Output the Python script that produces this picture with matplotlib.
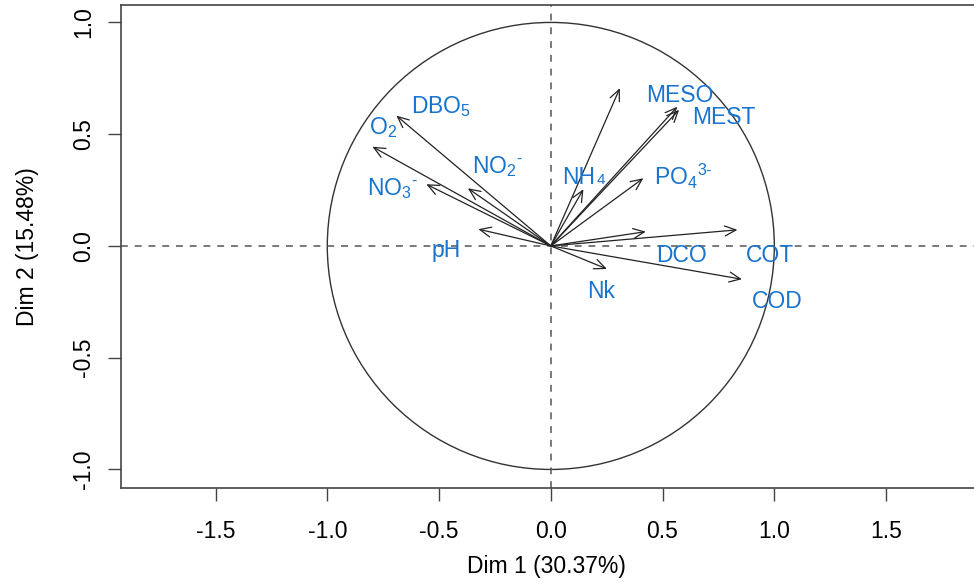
import matplotlib
matplotlib.use("Agg")
import matplotlib.pyplot as plt
from matplotlib.patches import Circle

plt.rcParams["font.family"] = ["Liberation Sans", "DejaVu Sans"]
plt.rcParams["mathtext.default"] = "regular"

# variable coordinates on Dim 1 / Dim 2
variables = ["DBO5", "O2", "NO3", "NO2", "pH", "NH4_long", "MESO", "MEST",
             "NH4", "PO4", "DCO", "COT", "COD", "Nk"]
dim1 = [-0.691, -0.798, -0.557, -0.371, -0.324, 0.309, 0.566, 0.574,
        0.146, 0.414, 0.425, 0.835, 0.855, 0.251]
dim2 = [0.583, 0.444, 0.276, 0.258, 0.075, 0.706, 0.623, 0.609,
        0.254, 0.303, 0.064, 0.072, -0.149, -0.103]

# labels, and where they were placed (left edge / baseline, data units)
labels = [r"DBO$_5$", r"O$_2$", "NO$_3{}^{\u2010}$", "NO$_2{}^{\u2010}$", "pH", "", "MESO", "MEST",
          "NH", "PO$_4{}^{3\u2010}$", "DCO", "COT", "COD", "Nk"]
label_x = [-0.625, -0.813, -0.822, -0.352, -0.532, 0, 0.426, 0.632,
           0.051, 0.462, 0.470, 0.874, 0.901, 0.162]
label_y = [0.595, 0.499, 0.228, 0.327, -0.051, 0, 0.644, 0.546,
           0.277, 0.273, -0.070, -0.070, -0.279, -0.233]

xticks = [-1.5, -1.0, -0.5, 0.0, 0.5, 1.0, 1.5]
yticks = [-1.0, -0.5, 0.0, 0.5, 1.0]

blue = "#1874CD"
fs = 16.5

fig = plt.figure(figsize=(9.74, 5.85), dpi=100)
ax = fig.add_axes([121 / 974, 97 / 585, 859.6 / 974, 483 / 585])
ax.set_xlim(-1.923, 1.923)
ax.set_ylim(-1.083, 1.078)

ax.add_patch(Circle((0, 0), 1, fill=False, lw=1.0, color="#333333"))
ax.axhline(0, ls=(0, (4.5, 4.5)), color="#555555", lw=1.1)
ax.axvline(0, ls=(0, (4.5, 4.5)), color="#555555", lw=1.1)

for x, y in zip(dim1, dim2):
    ax.annotate("", xy=(x, y), xytext=(0, 0),
                arrowprops=dict(arrowstyle="->,head_length=0.4,head_width=0.18",
                                lw=0.9, color="#222222", shrinkA=0, shrinkB=0,
                                mutation_scale=20))

for lab, lx, ly in zip(labels, label_x, label_y):
    if not lab:
        continue
    t = ax.text(lx, ly, lab, color=blue, fontsize=fs, ha="left", va="baseline")
    if lab == "NH":
        # small 4 sitting on the baseline after NH
        ax.annotate("4", xy=(1, 0), xycoords=t, xytext=(1, 1.6), textcoords="offset points",
                    color=blue, fontsize=11, ha="left", va="bottom")

ax.spines["right"].set_visible(False)
for side in ["left", "bottom", "top"]:
    ax.spines[side].set_color("#444444")
    ax.spines[side].set_linewidth(1.2)

ax.set_xticks(xticks)
ax.set_xticklabels([f"{v:.1f}" for v in xticks])
ax.set_yticks(yticks)
ax.set_yticklabels([f"{v:.1f}" for v in yticks], rotation=90, va="center")
ax.tick_params(axis="both", length=9.4, width=1.0, color="#444444", labelsize=fs)
ax.tick_params(axis="x", pad=14)
ax.tick_params(axis="y", pad=9)

fig.text(546 / 974, 1 - 567 / 585, "Dim 1 (30.37%)", ha="center", va="center", fontsize=fs)
fig.text(28 / 974, 1 - 246.5 / 585, "Dim 2 (15.48%)", ha="center", va="center",
         fontsize=fs, rotation=90)

fig.savefig("out.png", dpi=100)
